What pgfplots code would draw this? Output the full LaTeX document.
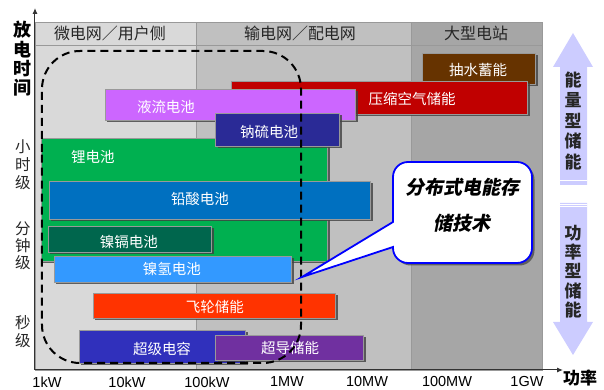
\documentclass[border=0pt]{standalone}
\usepackage{pgfplots}
\pgfplotsset{compat=1.18}
\usepackage{fontspec}
\setmainfont{Noto Sans CJK SC}
\newfontfamily\lat{Liberation Sans}
\newfontfamily\cjksl[FakeSlant=0.2,BoldFeatures={FakeSlant=0.2}]{Noto Sans CJK SC}
\usetikzlibrary{arrows.meta}
\definecolor{cBrown}{HTML}{663300}
\definecolor{cRed}{HTML}{C00000}
\definecolor{cViolet}{HTML}{CC66FF}
\definecolor{cNavy}{HTML}{2A2A96}
\definecolor{cGreen}{HTML}{00B050}
\definecolor{cBlue}{HTML}{0070C0}
\definecolor{cTeal}{HTML}{00664D}
\definecolor{cSky}{HTML}{3399FF}
\definecolor{cOrange}{HTML}{FF3300}
\definecolor{cSC}{HTML}{3030BC}
\definecolor{cPurple}{HTML}{7030A0}
\definecolor{cLav}{HTML}{CCCCFF}
\definecolor{gA}{HTML}{D9D9D9}
\definecolor{gB}{HTML}{C0C0C0}
\definecolor{gC}{HTML}{A6A6A6}
\definecolor{gLine}{HTML}{999999}
\newcommand\sbar[5]{%
  \addplot[draw=none, fill=black!75, opacity=0.8, xshift=2.5pt, yshift=-2.5pt, forget plot]
    coordinates {(#1,#3) (#2,#3) (#2,#4) (#1,#4)} -- cycle;
  \addplot[draw=black!40, line width=0.8pt, fill=#5, forget plot]
    coordinates {(#1,#3) (#2,#3) (#2,#4) (#1,#4)} -- cycle;
}
\newcommand\region[5]{%
  \addplot[draw=gLine, line width=0.8pt, fill=#5, forget plot]
    coordinates {(#1,#3) (#2,#3) (#2,#4) (#1,#4)} -- cycle;
}
\begin{document}
\begin{tikzpicture}
\begin{axis}[
  x=80pt, y=1pt,
  xmin=-0.15, xmax=6.19, ymin=20, ymax=368,
  axis line style={draw=none},
  clip=false,
  xtick={0,1,2,3,4,5,6},
  xticklabels={1kW,10kW,100kW,1MW,10MW,100MW,1GW},
  ytick=\empty,
  major tick length=0pt,
  tick style={draw=none},
  xticklabel style={font=\lat\fontsize{14.5}{16}\selectfont, anchor=center, inner sep=0pt, yshift=-12pt, text=black},
]
% invisible frame fixing picture size
\path (axis cs:-0.5875,0) rectangle (axis cs:6.9625,390);

% background regions
\region{-0.15}{1.8625}{20}{368}{gA}
\region{1.8625}{4.55}{20}{368}{gB}
\region{4.55}{6.19}{20}{368}{gC}
% header band
\region{-0.15}{1.8625}{345}{368}{gA}
\region{1.8625}{4.55}{345}{368}{gB}
\region{4.55}{6.19}{345}{368}{gC}

\node[font=\fontsize{16}{18}\selectfont, text=black!85] at (axis cs:0.7875,357) {微电网／用户侧};
\node[font=\fontsize{16}{18}\selectfont, text=black!85] at (axis cs:3.1625,357) {输电网／配电网};
\node[font=\fontsize{16}{18}\selectfont, text=black!85] at (axis cs:5.3625,357) {大型电站};

% bars
\sbar{4.69}{6.10}{306}{337}{cBrown}
\sbar{2.30}{6.00}{276}{309}{cRed}
\sbar{0.725}{3.85}{270}{301}{cViolet}
\sbar{-0.075}{3.50}{129}{252}{cGreen}
\sbar{2.11}{3.66}{244}{277}{cNavy}
\sbar{0.025}{4.04}{171}{209}{cBlue}
\sbar{0.0125}{2.06}{138}{164}{cTeal}
\sbar{0.0875}{3.05}{108}{134}{cSky}
\sbar{0.575}{3.61}{72}{97}{cOrange}
\sbar{0.40}{2.475}{27}{60}{cSC}
\sbar{2.10}{3.96}{30}{55}{cPurple}

\begin{scope}[every node/.style={text=white, font=\fontsize{14.5}{16}\selectfont}]
\node at (axis cs:5.3875,320) {抽水蓄能};
\node at (axis cs:4.5625,291) {压缩空气储能};
\node at (axis cs:1.4875,283) {液流电池};
\node at (axis cs:2.775,258) {钠硫电池};
\node at (axis cs:0.575,233) {锂电池};
\node at (axis cs:1.9125,191) {铅酸电池};
\node at (axis cs:1.025,148) {镍镉电池};
\node at (axis cs:1.5625,121) {镍氢电池};
\node at (axis cs:2.1,83) {飞轮储能};
\node at (axis cs:1.4375,41) {超级电容};
\node at (axis cs:3.0375,42) {超导储能};
\end{scope}

% dashed rounded region
\draw[black, line width=2pt, dash pattern=on 8pt off 5pt, rounded corners=38pt]
  (axis cs:-0.0625,200) -- (axis cs:-0.0625,339) -- (axis cs:3.175,339)
  -- (axis cs:3.175,27) -- (axis cs:-0.0625,27) -- cycle;

% callout
\fill[black!70, opacity=0.8, rounded corners=15pt, xshift=2.5pt, yshift=-2.5pt]
  (axis cs:4.325,190) -- (axis cs:4.325,228) -- (axis cs:6.0625,228) -- (axis cs:6.0625,127) -- (axis cs:4.325,127) -- (axis cs:4.325,150) -- cycle;
\draw[blue, line width=1.8pt, fill=white]
  (axis cs:4.325,190) [rounded corners=15pt] -- (axis cs:4.325,228) -- (axis cs:6.0625,228)
  -- (axis cs:6.0625,127) -- (axis cs:4.325,127) [sharp corners] -- (axis cs:4.325,143)
  -- (axis cs:3.1875,113) -- (axis cs:4.325,168) -- cycle;
\node[font=\cjksl\bfseries\fontsize{19}{21}\selectfont] at (axis cs:5.1875,203) {分布式电能存};
\node[font=\cjksl\bfseries\fontsize{19}{21}\selectfont] at (axis cs:5.1875,167) {储技术};

% axes with arrows
\draw[black!80, line width=1pt, -{Latex[length=6pt,width=5pt]}] (axis cs:-0.15,20) -- (axis cs:-0.15,382);
\draw[black!80, line width=1pt, -{Latex[length=6pt,width=5pt]}] (axis cs:-0.15,20) -- (axis cs:6.45,20);

% left labels
\node[font=\bfseries\fontsize{18}{19.3}\selectfont, align=center] at (axis cs:-0.3,331) {放\\电\\时\\间};
\node[font=\fontsize{15.5}{18}\selectfont, align=center, text=black!85] at (axis cs:-0.3,225) {小\\时\\级};
\node[font=\fontsize{15.5}{17}\selectfont, align=center, text=black!85] at (axis cs:-0.3,144) {分\\钟\\级};
\node[font=\fontsize{15.5}{18}\selectfont, align=center, text=black!85] at (axis cs:-0.3,58) {秒\\级};

% right arrows
\fill[cLav] (axis cs:6.4125,205) -- (axis cs:6.4125,323) -- (axis cs:6.325,323) -- (axis cs:6.575,357)
  -- (axis cs:6.825,323) -- (axis cs:6.75,323) -- (axis cs:6.75,205) -- cycle;
\draw[white, line width=1pt] (axis cs:6.4125,209) -- (axis cs:6.75,209);
\fill[cLav] (axis cs:6.4125,187) -- (axis cs:6.4125,68) -- (axis cs:6.325,68) -- (axis cs:6.575,35)
  -- (axis cs:6.825,68) -- (axis cs:6.75,68) -- (axis cs:6.75,187) -- cycle;
\draw[white, line width=1pt] (axis cs:6.4125,183) -- (axis cs:6.75,183);
\draw[white, line width=0.8pt] (axis cs:6.4125,186) -- (axis cs:6.75,186);
\node[font=\bfseries\fontsize{17}{20.5}\selectfont, align=center, text=black!85] at (axis cs:6.575,269) {能\\量\\型\\储\\能};
\node[font=\bfseries\fontsize{17}{19.4}\selectfont, align=center, text=black!85] at (axis cs:6.575,118.5) {功\\率\\型\\储\\能};
\node[font=\bfseries\fontsize{17}{19}\selectfont, inner sep=0pt] at (axis cs:6.6625,12) {功率};
\end{axis}
\end{tikzpicture}
\end{document}
